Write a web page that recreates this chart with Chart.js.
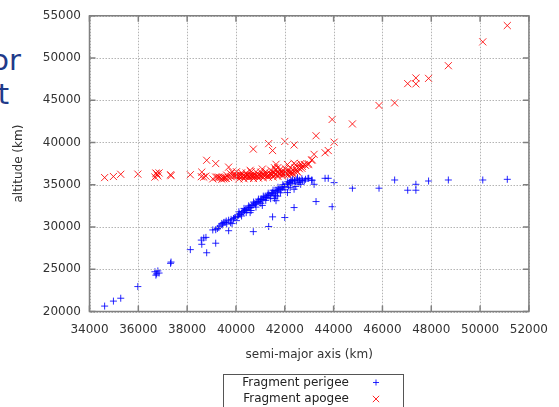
<!DOCTYPE html>
<html><head><meta charset="utf-8">
<script src="https://cdn.jsdelivr.net/npm/chart.js@4"></script>
<style>
html,body{margin:0;padding:0;background:#fff;}
#wrap{position:relative;width:559px;height:407px;overflow:hidden;background:#fff;}
canvas{position:absolute;left:0;top:0;}
.slide{position:absolute;font-family:"DejaVu Sans";font-size:29px;line-height:29px;color:#1f3a8a;text-align:right;width:80px;white-space:nowrap;}
</style></head>
<body><div id="wrap">
<div class="slide" style="top:45.5px;left:-59px">or</div>
<div class="slide" style="top:79.5px;left:-71px">t</div>
<canvas id="c" width="559" height="407"></canvas>
</div>
<script>
const semiMajorAxis = [
34620, 34980, 35280, 35980, 36680, 36750, 36800, 36850, 36720, 37320,
37340, 38130, 38600, 38580, 38680, 38800, 38770, 39170, 39170, 39240,
39420, 39500, 39700, 39840, 39700, 39900, 40000, 39600, 39350, 39050,
39300, 39550, 39800, 39950,
40050, 40100, 40150, 40200, 40250, 40300, 40350, 40400, 40450, 40500,
40550, 40600, 40650, 40700, 40750, 40800, 40850, 40900, 40950, 41000,
41050, 41100, 41150, 41200, 41250, 41300, 41350, 41400, 41450, 41500,
41550, 41600, 41650, 41700, 41750, 41800, 41850, 41900, 41950, 42000,
42050, 42100, 42150, 42200, 42250, 42300, 42400, 42500, 42600, 42700,
40020, 40120, 40230, 40330, 40420, 40520, 40620, 40720, 40820, 40920,
41020, 41120, 41220, 41320, 41420, 41520, 41620, 41720, 41820, 41920,
42020, 42120, 42220, 42320, 42420, 42520, 42620, 42720, 42850, 39780,
39620, 39450, 40580, 41080, 41580,
40710, 41340, 41500, 42000, 42380, 42380, 42110, 42650, 43120, 42980,
41640, 41710, 42250, 42550, 42450,
42800, 42950, 43100, 43200, 43650, 43780, 44020, 43280, 43940, 44770,
45860, 46500, 47035, 47370, 47370, 47890, 48700, 50110, 51115
];
const perigeeAlt = [
20640, 21230, 21570, 22950, 24700, 24450, 24800, 24550, 24300, 25700,
25850, 27320, 27950, 28450, 28700, 26950, 28770, 28080, 29680, 29830,
30420, 30540, 29560, 30400, 30800, 31000, 31150, 30700, 30100, 29650,
29950, 30550, 30900, 31100,
31250, 31400, 31550, 31500, 31800, 31750, 31950, 32050, 32000, 32250,
32350, 32300, 32550, 32600, 32750, 32700, 32900, 33050, 33000, 33200,
33300, 33250, 33450, 33550, 33500, 33750, 33800, 33700, 34000, 34050,
33900, 34250, 34300, 34150, 34450, 34550, 34400, 34700, 34850, 34750,
35000, 35100, 34900, 35250, 35200, 35400, 35500, 35650, 35550, 35700,
30750, 31800, 31300, 32200, 31700, 32500, 31950, 32950, 32350, 33300,
32800, 33650, 33150, 34000, 33350, 34350, 33700, 34700, 34050, 35000,
34400, 35350, 34650, 35600, 35100, 35780, 35300, 35500, 35650, 30500,
30350, 30250, 31700, 32550, 33400,
29450, 30060, 31200, 31120, 32300, 34470, 34070, 35050, 35530, 35760,
33110, 33650, 35500, 35300, 34800,
35450, 35750, 35550, 35050, 35760, 35760, 35250, 33010, 32400, 34590,
34590, 35560, 34350, 35050, 34350, 35440, 35560, 35560, 35640
];
const apogeeAlt = [
35844, 35974, 36234, 36254, 35904, 36294, 36044, 36394, 36384, 36184,
36074, 36184, 36494, 35954, 35904, 37894, 36014, 37504, 35904, 35894,
35664, 35704, 37084, 36524, 35844, 36044, 36094, 35744, 35844, 35694,
35894, 35794, 35944, 36044,
36094, 36044, 35994, 36144, 35944, 36094, 35994, 35994, 36144, 35994,
35994, 36144, 35994, 36044, 35994, 36144, 36044, 35994, 36144, 36044,
36044, 36194, 36094, 36094, 36244, 36094, 36144, 36344, 36144, 36194,
36444, 36194, 36244, 36494, 36294, 36294, 36544, 36344, 36294, 36494,
36344, 36344, 36644, 36394, 36544, 36444, 36544, 36594, 36894, 36944,
36534, 35684, 36404, 35704, 36384, 35784, 36534, 35734, 36534, 35784,
36484, 35834, 36534, 35884, 36734, 35934, 36784, 35984, 36834, 36084,
36884, 36134, 37034, 36284, 36984, 36504, 37184, 37184, 37294, 36304,
36134, 35894, 36704, 36854, 37004,
39214, 39864, 39044, 40124, 39704, 37534, 37394, 37494, 37954, 37444,
37414, 37014, 36244, 37044, 37344,
37394, 37394, 37894, 38594, 38784, 39044, 40034, 40794, 42724, 42194,
44374, 44684, 46964, 46934, 47634, 47584, 49084, 51904, 53834
];
const xTickValues = [34000, 36000, 38000, 40000, 42000, 44000, 46000, 48000, 50000, 52000];
const yTickValues = [20000, 25000, 30000, 35000, 40000, 45000, 50000, 55000];
const seriesLabels = ['Fragment perigee', 'Fragment apogee'];

const FONT = 'DejaVu Sans';

function drawFrame(chart) {
  const ctx = chart.ctx;
  const a = chart.chartArea;
  const x = chart.scales.x, y = chart.scales.y;
  ctx.save();
  // dotted grid at the scale's tick values: short segments, one stroke
  ctx.strokeStyle = '#b4b4b4';
  ctx.lineWidth = 1;
  ctx.beginPath();
  for (const v of xTickValues) {
    const px = Math.round(x.getPixelForValue(v)) + 0.5;
    for (let yy = a.top + 1; yy < a.bottom - 1; yy += 3) {
      ctx.moveTo(px, yy);
      ctx.lineTo(px, yy + 1.5);
    }
  }
  for (const v of yTickValues) {
    const py = Math.round(y.getPixelForValue(v)) + 0.5;
    for (let xx = a.left + 1; xx < a.right - 1; xx += 3) {
      ctx.moveTo(xx, py);
      ctx.lineTo(xx + 1.5, py);
    }
  }
  ctx.stroke();
  // frame
  ctx.strokeStyle = '#808080';
  ctx.lineWidth = 1.5;
  ctx.beginPath();
  ctx.rect(a.left, a.top, a.right - a.left, a.bottom - a.top);
  ctx.stroke();
  // inward tick marks
  const tl = 6;
  ctx.beginPath();
  for (const v of xTickValues) {
    const px = x.getPixelForValue(v);
    ctx.moveTo(px, a.bottom); ctx.lineTo(px, a.bottom - tl);
    ctx.moveTo(px, a.top); ctx.lineTo(px, a.top + tl);
  }
  for (const v of yTickValues) {
    const py = y.getPixelForValue(v);
    ctx.moveTo(a.left, py); ctx.lineTo(a.left + tl, py);
    ctx.moveTo(a.right, py); ctx.lineTo(a.right - tl, py);
  }
  ctx.stroke();
  ctx.restore();
}

function drawKey(chart) {
  const ctx = chart.ctx;
  ctx.save();
  ctx.strokeStyle = '#555';
  ctx.lineWidth = 1;
  ctx.strokeRect(223.5, 374.5, 180, 45);
  ctx.font = '12px "' + FONT + '"';
  ctx.textAlign = 'right';
  ctx.textBaseline = 'middle';
  chart.data.datasets.forEach((ds, i) => {
    const yy = 382.5 + i * 16.5;
    ctx.fillStyle = '#222';
    ctx.fillText(ds.label, 349, yy);
    ctx.strokeStyle = ds.borderColor;
    ctx.fillStyle = ds.backgroundColor;
    ctx.lineWidth = 1;
    Chart.helpers.drawPoint(ctx, {pointStyle: ds.pointStyle, radius: ds.pointRadius - 0.5, borderWidth: 1, rotation: 0}, 376, yy);
  });
  ctx.restore();
}

const overlayPlugin = {
  id: 'overlay',
  afterDraw(chart) {
    drawFrame(chart);
    drawKey(chart);
  }
};

const toPoints = ys => semiMajorAxis.map((a, i) => ({x: a, y: ys[i]}));
const plainNumber = v => String(v);

new Chart(document.getElementById('c'), {
  type: 'scatter',
  data: {
    datasets: [
      {label: seriesLabels[0], data: toPoints(perigeeAlt), pointStyle: 'cross', pointRadius: 3.5,
       borderColor: 'rgba(0,0,255,0.85)', backgroundColor: 'rgba(0,0,255,0.85)', borderWidth: 1},
      {label: seriesLabels[1], data: toPoints(apogeeAlt), pointStyle: 'crossRot', pointRadius: 5,
       borderColor: 'rgba(255,0,0,0.85)', backgroundColor: 'rgba(255,0,0,0.85)', borderWidth: 1}
    ]
  },
  options: {
    responsive: false,
    animation: false,
    events: [],
    layout: {padding: {left: 0, right: 21, top: 14, bottom: 40.5}},
    plugins: {legend: {display: false}, tooltip: {enabled: false}},
    scales: {
      x: {
        type: 'linear', min: 34000, max: 52000,
        afterBuildTicks: s => { s.ticks = xTickValues.map(v => ({value: v})); },
        afterFit: s => { s.height = 55; },
        ticks: {color: '#333', font: {family: FONT, size: 12}, padding: 11, maxRotation: 0, autoSkip: false, callback: plainNumber},
        grid: {display: false, drawTicks: false},
        border: {display: false},
        title: {display: true, text: 'semi-major axis (km)', color: '#333', font: {family: FONT, size: 12}, padding: {top: 0, bottom: 4.8}}
      },
      y: {
        type: 'linear', min: 20000, max: 55000,
        afterBuildTicks: s => { s.ticks = yTickValues.map(v => ({value: v})); },
        afterFit: s => { s.width = 89.5; },
        ticks: {color: '#333', font: {family: FONT, size: 12}, padding: 8.5, autoSkip: false, callback: plainNumber},
        grid: {display: false, drawTicks: false},
        border: {display: false},
        title: {display: true, text: 'altitude (km)', color: '#333', font: {family: FONT, size: 12}, padding: {top: 11.3, bottom: 0}}
      }
    }
  },
  plugins: [overlayPlugin]
});
</script>
</body></html>
